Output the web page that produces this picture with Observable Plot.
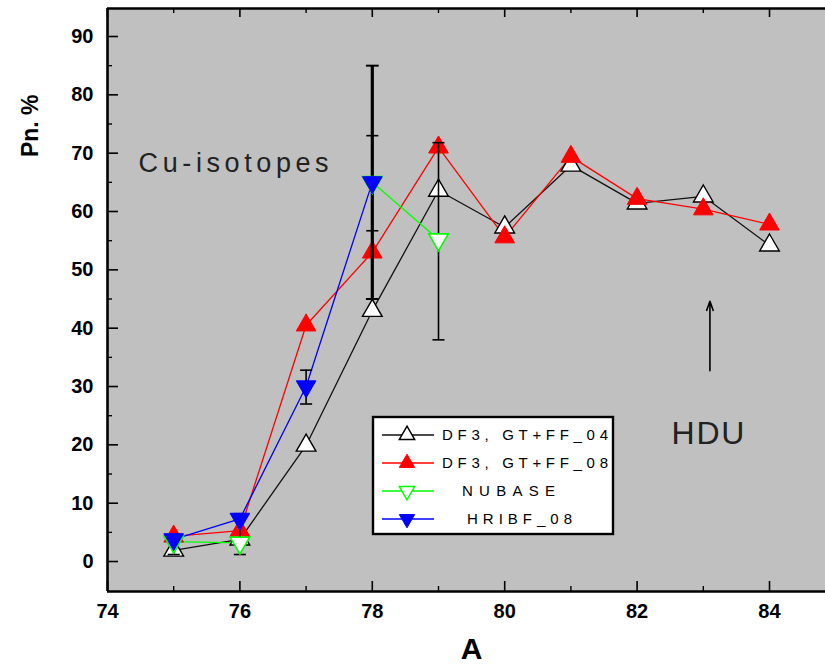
<!DOCTYPE html>
<html>
<head>
<meta charset="utf-8">
<script src="https://cdn.jsdelivr.net/npm/d3@7"></script>
<script src="https://cdn.jsdelivr.net/npm/@observablehq/plot@0.6"></script>
<style>
  body { margin: 0; background: #fff; }
  #chart { width: 825px; height: 667px; }
</style>
</head>
<body>
<div id="chart"></div>
<script>
// Beta-delayed neutron emission probability (Pn, %) of Cu isotopes vs mass number A
const massNumbers = [75, 76, 77, 78, 79, 80, 81, 82, 83, 84];
const df3GtFf04 = [1.9, 3.8, 19.9, 43.0, 63.6, 57.3, 67.9, 61.4, 62.6, 54.2];
const df3GtFf08 = [4.3, 5.3, 40.5, 53.0, 71.0, 55.6, 69.4, 62.2, 60.4, 57.8];

const nubaseA = [75, 76, 77, 78, 79];
const nubase = [3.4, 3.2, null, 65.0, 55.2];

const hribfA = [75, 76, 77, 78];
const hribf08 = [3.8, 7.3, 30.0, 65.0];

// experimental uncertainty bars
const errA = [75, 76, 77, 78, 79];
const errLow = [1.2, 1.2, 27.0, 56.7, 38.0];
const errHigh = [4.6, 8.2, 32.8, 73.0, 71.8];
const wideErrA = [78];
const wideErrLow = [45.0];
const wideErrHigh = [85.0];

// HDU annotation arrow
const hduA = [83.1];
const hduFrom = [32.7];
const hduTo = [44.6];

const xMajorTicks = [74, 76, 78, 80, 82, 84];
const xMinorTicks = [75, 77, 79, 81, 83];
const yMajorTicks = [0, 10, 20, 30, 40, 50, 60, 70, 80, 90];
const yMinorTicks = [5, 15, 25, 35, 45, 55, 65, 75, 85];

const seriesNames = ["DF3, GT+FF_04", "DF3, GT+FF_08", "NUBASE", "HRIBF_08"];

const xDomain = [74, 84.846];
const yDomain = [-5.14, 94.8];

const W = 825, H = 667;
const mL = 107, mR = 0, mT = 8, mB = 76;
const innerW = W - mL - mR, innerH = H - mT - mB;

const rows = (xs, ys) => xs.map((a, i) => ({a, v: ys[i]}));
const s04 = rows(massNumbers, df3GtFf04);
const s08 = rows(massNumbers, df3GtFf08);
const sNub = rows(nubaseA, nubase);
const sHri = rows(hribfA, hribf08);
const errs = errA.map((a, i) => ({a, lo: errLow[i], hi: errHigh[i]}));
const wideErrs = wideErrA.map((a, i) => ({a, lo: wideErrLow[i], hi: wideErrHigh[i]}));
const hdu = hduA.map((a, i) => ({a, from: hduFrom[i], to: hduTo[i]}));

const cap = {draw(ctx, size) { const w = Math.sqrt(size); ctx.moveTo(-w, 0); ctx.lineTo(w, 0); }};
const R = 7.3;
const lineW = 1.3;
const GREEN = "#00ff00";

const plot = Plot.plot({
  width: W, height: H,
  marginLeft: mL, marginRight: mR, marginTop: mT, marginBottom: mB,
  style: {background: "transparent", fontFamily: "Liberation Sans, Arial, sans-serif"},
  x: {domain: xDomain, axis: null},
  y: {domain: yDomain, axis: null},
  marks: [
    Plot.frame({fill: "#c0c0c0", stroke: "none"}),

    // series lines
    Plot.line(s04, {x: "a", y: "v", stroke: "#111", strokeWidth: lineW}),
    Plot.line(s08, {x: "a", y: "v", stroke: "red", strokeWidth: lineW}),
    Plot.line(sNub, {x: "a", y: "v", stroke: GREEN, strokeWidth: lineW}),
    Plot.line(sHri, {x: "a", y: "v", stroke: "blue", strokeWidth: lineW}),

    Plot.dot(s04, {x: "a", y: "v", symbol: "triangle", r: R, fill: "white", stroke: "black", strokeWidth: 1.4}),
    Plot.dot(s08, {x: "a", y: "v", symbol: "triangle", r: R, fill: "red", stroke: "red", strokeWidth: 1}),

    // error bars
    Plot.ruleX(errs, {x: "a", y1: "lo", y2: "hi", stroke: "black", strokeWidth: 1.6}),
    Plot.dot(errs, {x: "a", y: "lo", symbol: cap, r: 3.4, fill: "none", stroke: "black", strokeWidth: 1.6}),
    Plot.dot(errs, {x: "a", y: "hi", symbol: cap, r: 3.4, fill: "none", stroke: "black", strokeWidth: 1.6}),
    Plot.ruleX(wideErrs, {x: "a", y1: "lo", y2: "hi", stroke: "black", strokeWidth: 3.2}),
    Plot.dot(wideErrs, {x: "a", y: "lo", symbol: cap, r: 3.6, fill: "none", stroke: "black", strokeWidth: 2}),
    Plot.dot(wideErrs, {x: "a", y: "hi", symbol: cap, r: 3.6, fill: "none", stroke: "black", strokeWidth: 2}),

    Plot.dot(sNub, {x: "a", y: "v", symbol: "triangle", rotate: 180, r: R, fill: "white", stroke: GREEN, strokeWidth: 1.6}),
    Plot.dot(sHri, {x: "a", y: "v", symbol: "triangle", rotate: 180, r: R, fill: "blue", stroke: "blue", strokeWidth: 1}),

    // inward ticks: left, bottom, top
    Plot.tickY(yMajorTicks, {y: d => d, insetRight: innerW - 11, stroke: "black", strokeWidth: 1.6}),
    Plot.tickY(yMinorTicks, {y: d => d, insetRight: innerW - 5, stroke: "black", strokeWidth: 1.4}),
    Plot.tickX(xMajorTicks, {x: d => d, insetTop: innerH - 10, stroke: "black", strokeWidth: 1.6}),
    Plot.tickX(xMinorTicks, {x: d => d, insetTop: innerH - 5, stroke: "black", strokeWidth: 1.4}),
    Plot.tickX(xMajorTicks, {x: d => d, insetBottom: innerH - 9, stroke: "black", strokeWidth: 1.6}),
    Plot.tickX(xMinorTicks, {x: d => d, insetBottom: innerH - 5, stroke: "black", strokeWidth: 1.4}),

    // plot border (left, top, bottom)
    Plot.ruleX([xDomain[0]], {stroke: "black", strokeWidth: 2.6}),
    Plot.ruleY([yDomain[0]], {stroke: "black", strokeWidth: 2.6}),
    Plot.ruleY([yDomain[1]], {stroke: "black", strokeWidth: 2.6}),

    // tick labels
    Plot.axisY({ticks: yMajorTicks, tickSize: 0, tickPadding: 14, fontSize: 20, fontWeight: "bold", label: null, anchor: "left"}),
    Plot.axisX({ticks: xMajorTicks, tickSize: 0, tickPadding: 12, fontSize: 20, fontWeight: "bold", label: null, anchor: "bottom"}),

    // axis titles
    Plot.text(["Pn. %"], {frameAnchor: "left", y: [74.7], dx: -77, rotate: -90, textAnchor: "middle", fontSize: 23, fontWeight: "bold", fill: "black"}),
    Plot.text(["A"], {frameAnchor: "bottom", x: [79.5], dy: 67, fontSize: 30, fontWeight: "bold", fill: "black"}),

    // annotations
    Plot.text(["Cu-isotopes"], {x: [74.47], y: [68.3], textAnchor: "start", fontSize: 27, fill: "#222"}),
    Plot.text(["HDU"], {x: [83.07], y: [21.9], fontSize: 32, fill: "#222"}),
    Plot.arrow(hdu, {x1: "a", y1: "from", x2: "a", y2: "to", stroke: "black", strokeWidth: 1.6, headLength: 9, headAngle: 40})
  ]
});

document.getElementById("chart").appendChild(plot);

// stretch annotation texts to their drawn widths
const svg = d3.select(plot);
svg.selectAll("text").each(function() {
  const t = this.textContent;
  if (t === "Cu-isotopes") d3.select(this).attr("textLength", 190).attr("lengthAdjust", "spacing");
  if (t === "HDU") d3.select(this).attr("textLength", 73).attr("lengthAdjust", "spacing");
});

// legend box
const legend = svg.append("g").attr("transform", "translate(373,417)");
legend.append("rect").attr("width", 240).attr("height", 117).attr("fill", "white").attr("stroke", "black").attr("stroke-width", 2.4);
const entries = [
  {name: seriesNames[0], color: "black", fill: "white", down: false, tx: 69, tl: 166},
  {name: seriesNames[1], color: "red", fill: "red", down: false, tx: 69, tl: 166},
  {name: seriesNames[2], color: GREEN, fill: "white", down: true, tx: 89, tl: 93},
  {name: seriesNames[3], color: "blue", fill: "blue", down: true, tx: 94, tl: 105}
];
const tri = d3.symbol(d3.symbolTriangle2, Math.PI * R * R)();
entries.forEach((e, i) => {
  const g = legend.append("g").attr("transform", `translate(0,${18 + i * 28})`);
  g.append("line").attr("x1", 9).attr("x2", 61).attr("stroke", e.color === "black" ? "#111" : e.color).attr("stroke-width", 1.4);
  g.append("path").attr("d", tri)
    .attr("transform", `translate(34,0)${e.down ? " rotate(180)" : ""}`)
    .attr("fill", e.fill).attr("stroke", e.color).attr("stroke-width", e.fill === "white" ? 1.5 : 1);
  g.append("text").attr("x", e.tx).attr("y", 0).attr("dy", "0.36em")
    .attr("text-anchor", "start")
    .attr("font-family", "Liberation Sans, Arial, sans-serif").attr("font-size", 15)
    .attr("textLength", e.tl).attr("lengthAdjust", "spacing")
    .attr("fill", "black").text(e.name);
});
</script>
</body>
</html>
